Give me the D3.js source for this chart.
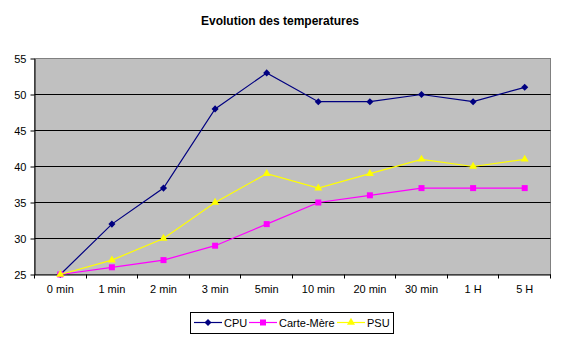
<!DOCTYPE html>
<html>
<head>
<meta charset="utf-8">
<script src="https://cdn.jsdelivr.net/npm/d3@7"></script>
<style>
  body { margin: 0; background: #fff; }
  svg { display: block; font-family: Arial, "Liberation Sans", sans-serif; }
</style>
</head>
<body>
<svg id="chart" width="561" height="339"></svg>
<script>
// categories (time since start)
var times = ["0 min", "1 min", "2 min", "3 min", "5min", "10 min", "20 min", "30 min", "1 H", "5 H"];
// temperatures per sensor
var cpu = [25, 32, 37, 48, 53, 49, 49, 50, 49, 51];
var carteMere = [25, 26, 27, 29, 32, 35, 36, 37, 37, 37];
var psu = [25, 27, 30, 35, 39, 37, 39, 41, 40, 41];
// y axis ticks
var yTicks = [25, 30, 35, 40, 45, 50, 55];

var series = [
    { name: "CPU", values: cpu, color: "#000080", marker: "diamond" },
    { name: "Carte-Mère", values: carteMere, color: "#ff00ff", marker: "square" },
    { name: "PSU", values: psu, color: "#ffff00", marker: "triangle" }
];

// plot box
var plotLeft = 34.5, plotRight = 550.5, plotTop = 58.5, plotBottom = 274.5;

var svg = d3.select("#chart");

var x = d3.scaleBand().domain(times).range([plotLeft, plotRight]);
var y = d3.scaleLinear().domain([25, 55]).range([plotBottom, plotTop]);

function cx(d, i) { return x(times[i]) + x.bandwidth() / 2; }

// title
svg.append("text")
    .attr("x", 280)
    .attr("y", 25)
    .attr("text-anchor", "middle")
    .attr("font-size", "12px")
    .attr("font-weight", "bold")
    .text("Evolution des temperatures");

// gray plot area
svg.append("rect")
    .attr("x", plotLeft)
    .attr("y", plotTop)
    .attr("width", plotRight - plotLeft)
    .attr("height", plotBottom - plotTop)
    .attr("fill", "#c0c0c0")
    .attr("stroke", "#808080")
    .attr("stroke-width", 1);

// horizontal grid lines
svg.append("g").selectAll("line")
    .data(yTicks.filter(function(t) { return t > 25 && t < 55; }))
    .enter().append("line")
    .attr("x1", plotLeft)
    .attr("x2", plotRight)
    .attr("y1", function(d) { return y(d); })
    .attr("y2", function(d) { return y(d); })
    .attr("stroke", "#000")
    .attr("stroke-width", 1);

// y axis
var yAxis = svg.append("g")
    .attr("transform", "translate(" + plotLeft + ",0)")
    .call(d3.axisLeft(y).tickValues(yTicks).tickSize(4).tickPadding(4).tickSizeOuter(0));
yAxis.select(".domain").attr("stroke", "#000");
yAxis.selectAll("line").attr("stroke", "#000");
yAxis.selectAll("text").attr("font-size", "11px").attr("font-family", "Arial, 'Liberation Sans', sans-serif").attr("fill", "#000");

// x axis: labels centred in each band, ticks on band edges
var xAxis = svg.append("g")
    .attr("transform", "translate(0," + plotBottom + ")")
    .call(d3.axisBottom(x).tickSize(0).tickPadding(11).tickSizeOuter(0));
xAxis.select(".domain").attr("stroke", "#000");
xAxis.selectAll("text").attr("font-size", "11px").attr("font-family", "Arial, 'Liberation Sans', sans-serif").attr("fill", "#000");

var edges = times.map(function(t) { return x(t); }).concat([plotRight]);
xAxis.selectAll("line.edge")
    .data(edges)
    .enter().append("line")
    .attr("class", "edge")
    .attr("x1", function(d) { return Math.round(d - 0.5) + 0.5; })
    .attr("x2", function(d) { return Math.round(d - 0.5) + 0.5; })
    .attr("y1", 0)
    .attr("y2", 4)
    .attr("stroke", "#000");

// marker shapes
function markerPath(kind) {
    if (kind === "diamond") return d3.symbol().type(d3.symbolDiamond2).size(32)();
    if (kind === "square") return d3.symbol().type(d3.symbolSquare).size(36)();
    return d3.symbol().type(d3.symbolTriangle).size(28)();
}

var line = d3.line()
    .x(cx)
    .y(function(d) { return y(d); });

series.forEach(function(s) {
    var g = svg.append("g").attr("class", "series");
    g.append("path")
        .datum(s.values)
        .attr("d", line)
        .attr("fill", "none")
        .attr("stroke", s.color)
        .attr("stroke-width", 1.2);
    g.selectAll("path.mark")
        .data(s.values)
        .enter().append("path")
        .attr("class", "mark")
        .attr("transform", function(d, i) { return "translate(" + cx(d, i) + "," + y(d) + ")"; })
        .attr("d", markerPath(s.marker))
        .attr("fill", s.color);
});

// legend
var legend = svg.append("g");
legend.append("rect")
    .attr("x", 190.5)
    .attr("y", 312.5)
    .attr("width", 203)
    .attr("height", 21)
    .attr("fill", "#fff")
    .attr("stroke", "#000");

var legendX = [194, 249, 337];
series.forEach(function(s, i) {
    var lx = legendX[i];
    legend.append("line")
        .attr("x1", lx)
        .attr("x2", lx + 28)
        .attr("y1", 322.5)
        .attr("y2", 322.5)
        .attr("stroke", s.color)
        .attr("stroke-width", 1.2);
    legend.append("path")
        .attr("transform", "translate(" + (lx + 14) + ",322.5)")
        .attr("d", markerPath(s.marker))
        .attr("fill", s.color);
    legend.append("text")
        .attr("x", lx + 30)
        .attr("y", 326.5)
        .attr("font-size", "11px")
        .text(s.name);
});
</script>
</body>
</html>
